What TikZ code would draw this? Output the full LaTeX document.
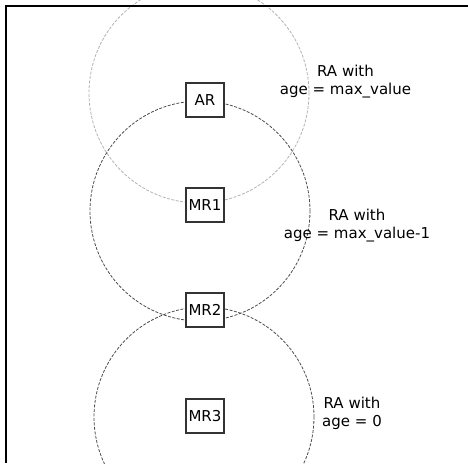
\documentclass[tikz,border=0pt]{standalone}
\usepackage{fontspec}
\setmainfont{DejaVu Sans}
\usetikzlibrary{positioning}

\begin{document}
\begin{tikzpicture}[x=1pt, y=-1pt,
	router/.style={rectangle, draw=black!80, line width=1.1pt, fill=white, minimum width=38pt, minimum height=34pt, inner sep=0pt, font=\fontsize{15}{18}\selectfont},
	coverage/.style={circle, dash pattern=on 3pt off 1.5pt, line width=0.8pt, minimum size=220pt},
	note/.style={align=center, inner sep=0pt, font=\fontsize{15}{18}\selectfont}]
						\useasboundingbox (0,0) rectangle (468,463);
						\clip (0,0) rectangle (468,463);
						\node[coverage, draw=black!30] (cAR)  at (199,93) {};
						\node[coverage, draw=black!70] (cMR1) at (200,211) {};
						\node[coverage, draw=black!70] (cMR3) at (204,417) {};
						\node[router] (AR)  at (205,100) {AR};
						\node[router] (MR1) at (205,205) {MR1};
						\node[router] (MR2) at (205,310) {MR2};
						\node[router] (MR3) at (205,416) {MR3};
						% anchor=base sits on the last line
						\node[note, anchor=base] (tAR)  at (345.5,94) {RA with\\age = max\_value};
						\node[note, anchor=base] (tMR1) at (357,238) {RA with\\age = max\_value-1};
						\node[note, anchor=base] (tMR3) at (352,426) {RA with\\age = 0};
						\draw[line width=2.4pt] (5.7,463) -- (5.7,6) -- (468,6);
					\end{tikzpicture}
\end{document}
